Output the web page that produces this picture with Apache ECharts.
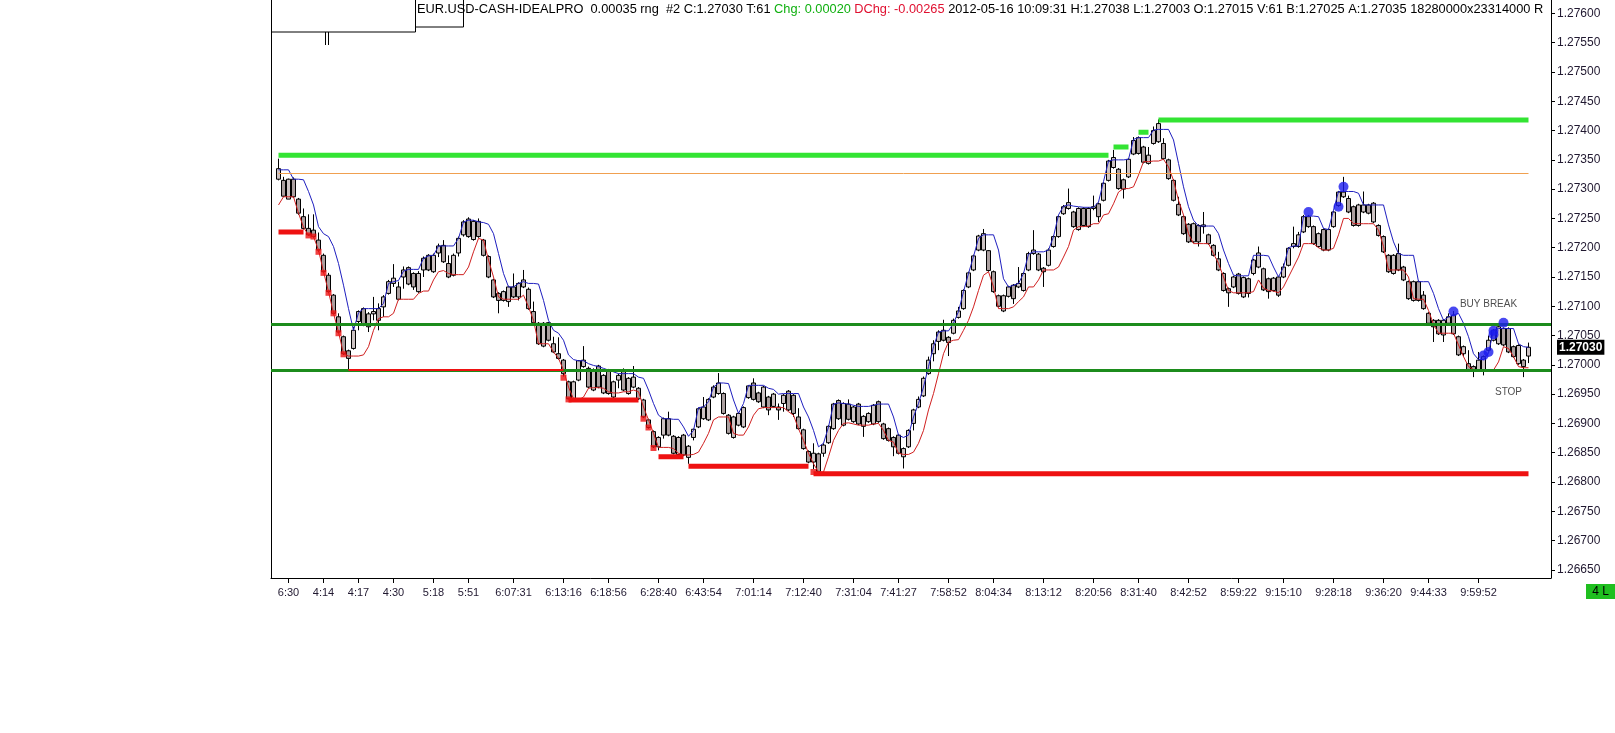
<!DOCTYPE html>
<html><head><meta charset="utf-8">
<script src="https://cdn.jsdelivr.net/npm/echarts@6/dist/echarts.min.js"></script>
<style>html,body{margin:0;padding:0;background:#fff}#c{width:1615px;height:733px}</style>
</head><body><div id="c"></div>
<script>
// ---- DATA ----
// candles: [open, close, low, high], one per bar
const candles = [
[1.27317,1.27335,1.27315,1.27352],[1.27315,1.27288,1.27287,1.27321],[1.27283,1.27317,1.27283,1.27318],[1.27317,1.27287,1.27285,1.27320],[1.27283,1.27259,1.27256,1.27285],
[1.27253,1.27233,1.27231,1.27267],[1.27233,1.27222,1.27220,1.27257],[1.27230,1.27219,1.27217,1.27257],[1.27213,1.27196,1.27193,1.27226],[1.27187,1.27159,1.27157,1.27190],
[1.27153,1.27125,1.27123,1.27157],[1.27119,1.27088,1.27086,1.27121],[1.27082,1.27056,1.27054,1.27088],[1.27048,1.27019,1.27017,1.27050],[1.27024,1.27011,1.26991,1.27026],
[1.27028,1.27059,1.27026,1.27065],[1.27074,1.27091,1.27059,1.27093],[1.27096,1.27068,1.27066,1.27098],[1.27065,1.27087,1.27056,1.27090],[1.27087,1.27091,1.27076,1.27116],
[1.27096,1.27076,1.27059,1.27105],[1.27099,1.27116,1.27082,1.27119],[1.27122,1.27142,1.27120,1.27145],[1.27139,1.27148,1.27133,1.27172],[1.27133,1.27112,1.27110,1.27142],
[1.27150,1.27162,1.27130,1.27168],[1.27166,1.27138,1.27136,1.27168],[1.27156,1.27133,1.27128,1.27158],[1.27125,1.27156,1.27123,1.27160],[1.27162,1.27182,1.27150,1.27185],
[1.27187,1.27162,1.27160,1.27189],[1.27159,1.27187,1.27157,1.27190],[1.27191,1.27203,1.27184,1.27207],[1.27204,1.27176,1.27174,1.27213],[1.27173,1.27150,1.27148,1.27187],
[1.27153,1.27187,1.27151,1.27190],[1.27191,1.27216,1.27185,1.27219],[1.27222,1.27244,1.27219,1.27247],[1.27249,1.27219,1.27217,1.27252],[1.27214,1.27245,1.27212,1.27247],
[1.27245,1.27219,1.27217,1.27250],[1.27213,1.27187,1.27185,1.27215],[1.27185,1.27150,1.27148,1.27187],[1.27145,1.27116,1.27114,1.27147],[1.27122,1.27110,1.27088,1.27124],
[1.27110,1.27125,1.27108,1.27127],[1.27108,1.27133,1.27099,1.27135],[1.27133,1.27116,1.27114,1.27156],[1.27116,1.27139,1.27110,1.27141],[1.27133,1.27145,1.27131,1.27162],
[1.27129,1.27096,1.27094,1.27132],[1.27091,1.27072,1.27070,1.27108],[1.27071,1.27036,1.27034,1.27073],[1.27032,1.27071,1.27030,1.27073],[1.27072,1.27042,1.27040,1.27073],
[1.27036,1.27022,1.27020,1.27048],[1.27019,1.27011,1.27009,1.27047],[1.27008,1.26985,1.26980,1.27010],[1.26971,1.26942,1.26941,1.26973],[1.26942,1.26971,1.26940,1.26973],
[1.26974,1.27007,1.26972,1.27008],[1.26997,1.27008,1.26995,1.27032],[1.26994,1.26962,1.26960,1.26997],[1.26957,1.26992,1.26955,1.26994],[1.26998,1.26962,1.26960,1.27000],
[1.26952,1.26982,1.26950,1.26984],[1.26991,1.26951,1.26949,1.26993],[1.26945,1.26971,1.26942,1.26973],[1.26974,1.26982,1.26960,1.26985],[1.26992,1.26957,1.26955,1.26994],
[1.26951,1.26977,1.26949,1.26979],[1.26962,1.26979,1.26960,1.26998],[1.26960,1.26942,1.26940,1.26962],[1.26940,1.26911,1.26909,1.26942],[1.26906,1.26893,1.26891,1.26908],
[1.26886,1.26860,1.26858,1.26888],[1.26860,1.26876,1.26854,1.26878],[1.26880,1.26908,1.26874,1.26910],[1.26908,1.26880,1.26878,1.26920],[1.26878,1.26849,1.26847,1.26880],
[1.26847,1.26876,1.26845,1.26878],[1.26880,1.26846,1.26844,1.26882],[1.26842,1.26861,1.26831,1.26863],[1.26876,1.26890,1.26871,1.26891],[1.26894,1.26925,1.26892,1.26927],
[1.26908,1.26928,1.26906,1.26945],[1.26906,1.26941,1.26904,1.26943],[1.26945,1.26962,1.26943,1.26965],[1.26951,1.26969,1.26949,1.26986],[1.26951,1.26917,1.26915,1.26953],
[1.26914,1.26883,1.26881,1.26916],[1.26876,1.26911,1.26874,1.26913],[1.26897,1.26917,1.26895,1.26919],[1.26894,1.26927,1.26892,1.26929],[1.26944,1.26964,1.26942,1.26965],
[1.26969,1.26941,1.26939,1.26977],[1.26952,1.26937,1.26935,1.26954],[1.26928,1.26962,1.26926,1.26964],[1.26945,1.26923,1.26914,1.26947],[1.26929,1.26950,1.26927,1.26952],
[1.26928,1.26923,1.26906,1.26934],[1.26934,1.26948,1.26920,1.26950],[1.26955,1.26923,1.26921,1.26957],[1.26948,1.26917,1.26911,1.26950],[1.26911,1.26891,1.26889,1.26926],
[1.26889,1.26857,1.26855,1.26891],[1.26852,1.26834,1.26832,1.26854],[1.26834,1.26849,1.26822,1.26866],[1.26848,1.26818,1.26813,1.26850],[1.26849,1.26863,1.26843,1.26866],
[1.26867,1.26895,1.26865,1.26897],[1.26891,1.26933,1.26889,1.26935],[1.26939,1.26908,1.26906,1.26941],[1.26897,1.26934,1.26895,1.26936],[1.26933,1.26907,1.26905,1.26941],
[1.26903,1.26928,1.26901,1.26930],[1.26933,1.26899,1.26897,1.26935],[1.26895,1.26912,1.26877,1.26914],[1.26903,1.26917,1.26901,1.26919],[1.26899,1.26931,1.26897,1.26933],
[1.26937,1.26903,1.26901,1.26939],[1.26899,1.26874,1.26872,1.26901],[1.26891,1.26871,1.26869,1.26893],[1.26876,1.26860,1.26844,1.26878],[1.26880,1.26849,1.26847,1.26882],
[1.26843,1.26857,1.26823,1.26859],[1.26860,1.26888,1.26858,1.26890],[1.26900,1.26923,1.26888,1.26925],[1.26928,1.26941,1.26926,1.26946],[1.26947,1.26977,1.26945,1.26980],
[1.26985,1.27008,1.26983,1.27014],[1.27019,1.27036,1.27006,1.27042],[1.27040,1.27056,1.27025,1.27059],[1.27059,1.27042,1.27040,1.27077],[1.27047,1.27038,1.27015,1.27049],
[1.27054,1.27076,1.27052,1.27079],[1.27081,1.27092,1.27079,1.27099],[1.27096,1.27127,1.27094,1.27129],[1.27133,1.27157,1.27131,1.27159],[1.27162,1.27186,1.27160,1.27188],
[1.27196,1.27220,1.27194,1.27222],[1.27196,1.27224,1.27194,1.27232],[1.27195,1.27161,1.27159,1.27196],[1.27159,1.27125,1.27123,1.27161],[1.27118,1.27100,1.27098,1.27120],
[1.27092,1.27118,1.27090,1.27120],[1.27117,1.27133,1.27115,1.27135],[1.27136,1.27113,1.27104,1.27138],[1.27133,1.27139,1.27131,1.27167],[1.27127,1.27156,1.27125,1.27158],
[1.27162,1.27190,1.27160,1.27193],[1.27190,1.27196,1.27188,1.27230],[1.27189,1.27162,1.27160,1.27191],[1.27165,1.27159,1.27133,1.27167],[1.27170,1.27196,1.27168,1.27199],
[1.27202,1.27219,1.27200,1.27221],[1.27219,1.27253,1.27217,1.27255],[1.27258,1.27270,1.27256,1.27273],[1.27267,1.27277,1.27265,1.27301],[1.27261,1.27236,1.27234,1.27263],
[1.27231,1.27267,1.27229,1.27269],[1.27267,1.27238,1.27236,1.27269],[1.27236,1.27267,1.27234,1.27269],[1.27267,1.27270,1.27264,1.27289],[1.27275,1.27253,1.27244,1.27277],
[1.27281,1.27310,1.27279,1.27312],[1.27315,1.27348,1.27313,1.27350],[1.27337,1.27354,1.27335,1.27367],[1.27334,1.27301,1.27299,1.27336],[1.27316,1.27300,1.27284,1.27318],
[1.27321,1.27351,1.27319,1.27353],[1.27360,1.27383,1.27358,1.27389],[1.27388,1.27361,1.27359,1.27390],[1.27372,1.27346,1.27344,1.27374],[1.27344,1.27358,1.27342,1.27372],
[1.27378,1.27400,1.27376,1.27407],[1.27381,1.27412,1.27379,1.27419],[1.27378,1.27352,1.27350,1.27387],[1.27350,1.27318,1.27316,1.27352],[1.27315,1.27281,1.27279,1.27317],
[1.27274,1.27256,1.27254,1.27287],[1.27253,1.27224,1.27222,1.27255],[1.27240,1.27210,1.27208,1.27242],[1.27210,1.27241,1.27208,1.27243],[1.27238,1.27210,1.27202,1.27240],
[1.27236,1.27239,1.27224,1.27261],[1.27222,1.27207,1.27205,1.27224],[1.27204,1.27187,1.27185,1.27206],[1.27181,1.27162,1.27160,1.27193],[1.27156,1.27127,1.27125,1.27158],
[1.27130,1.27123,1.27099,1.27132],[1.27133,1.27150,1.27131,1.27152],[1.27155,1.27122,1.27120,1.27157],[1.27116,1.27149,1.27114,1.27151],[1.27147,1.27122,1.27115,1.27149],
[1.27156,1.27179,1.27153,1.27181],[1.27167,1.27191,1.27165,1.27202],[1.27164,1.27128,1.27126,1.27166],[1.27147,1.27125,1.27113,1.27149],[1.27127,1.27148,1.27125,1.27150],
[1.27150,1.27119,1.27116,1.27152],[1.27150,1.27167,1.27148,1.27173],[1.27170,1.27199,1.27168,1.27201],[1.27202,1.27207,1.27199,1.27236],[1.27202,1.27222,1.27200,1.27227],
[1.27227,1.27253,1.27225,1.27256],[1.27253,1.27236,1.27234,1.27256],[1.27236,1.27207,1.27205,1.27238],[1.27202,1.27224,1.27200,1.27226],[1.27231,1.27196,1.27194,1.27233],
[1.27196,1.27231,1.27194,1.27233],[1.27236,1.27261,1.27234,1.27263],[1.27272,1.27295,1.27270,1.27297],[1.27287,1.27295,1.27285,1.27321],[1.27284,1.27261,1.27259,1.27289],
[1.27270,1.27238,1.27236,1.27272],[1.27238,1.27273,1.27236,1.27275],[1.27261,1.27273,1.27259,1.27296],[1.27273,1.27259,1.27257,1.27275],[1.27244,1.27276,1.27242,1.27278],
[1.27238,1.27221,1.27219,1.27240],[1.27219,1.27193,1.27191,1.27221],[1.27187,1.27159,1.27157,1.27189],[1.27156,1.27187,1.27154,1.27189],[1.27190,1.27162,1.27160,1.27207],
[1.27167,1.27145,1.27143,1.27169],[1.27142,1.27113,1.27111,1.27144],[1.27110,1.27142,1.27108,1.27144],[1.27142,1.27110,1.27108,1.27144],[1.27119,1.27096,1.27094,1.27126],
[1.27088,1.27071,1.27069,1.27090],[1.27076,1.27065,1.27039,1.27078],[1.27076,1.27053,1.27051,1.27078],[1.27051,1.27076,1.27039,1.27078],[1.27071,1.27082,1.27069,1.27088],
[1.27085,1.27053,1.27051,1.27092],[1.27048,1.27017,1.27015,1.27050],[1.27019,1.27031,1.27014,1.27033],[1.27002,1.26991,1.26989,1.27025],[1.26997,1.26990,1.26979,1.26999],
[1.26991,1.27008,1.26989,1.27022],[1.26991,1.27014,1.26982,1.27016],[1.27025,1.27042,1.27023,1.27050],[1.27042,1.27059,1.27040,1.27061],[1.27036,1.27065,1.27034,1.27070],
[1.27062,1.27034,1.27032,1.27064],[1.27062,1.27022,1.27020,1.27064],[1.27031,1.27014,1.27012,1.27033],[1.27002,1.27033,1.27000,1.27035],[1.27008,1.26997,1.26979,1.27010],
[1.27015,1.27030,1.27003,1.27038]
];
// upper (blue) and lower (red) channel lines, one value per bar
const upperLine = [
1.27333,1.27333,1.27333,1.27317,1.27317,1.27316,1.27296,1.27273,1.27236,1.27224,
1.27219,1.27202,1.27173,1.27136,1.27096,1.27059,1.27089,1.27096,1.27096,1.27096,
1.27096,1.27105,1.27139,1.27142,1.27144,1.27160,1.27163,1.27163,1.27163,1.27182,
1.27186,1.27187,1.27203,1.27203,1.27203,1.27203,1.27216,1.27244,1.27247,1.27247,
1.27244,1.27243,1.27240,1.27224,1.27190,1.27156,1.27133,1.27133,1.27139,1.27142,
1.27139,1.27139,1.27138,1.27110,1.27076,1.27059,1.27054,1.27042,1.27017,1.27009,
1.27007,1.27007,1.27002,1.26999,1.26997,1.26994,1.26991,1.26988,1.26985,1.26985,
1.26985,1.26985,1.26979,1.26977,1.26957,1.26934,1.26914,1.26908,1.26908,1.26907,
1.26907,1.26894,1.26878,1.26888,1.26927,1.26928,1.26937,1.26962,1.26969,1.26969,
1.26968,1.26940,1.26917,1.26934,1.26965,1.26965,1.26965,1.26965,1.26960,1.26958,
1.26950,1.26951,1.26951,1.26951,1.26951,1.26928,1.26911,1.26888,1.26860,1.26866,
1.26894,1.26933,1.26935,1.26934,1.26933,1.26931,1.26929,1.26929,1.26929,1.26931,
1.26933,1.26933,1.26933,1.26911,1.26880,1.26876,1.26880,1.26911,1.26934,1.26962,
1.26997,1.27031,1.27056,1.27058,1.27058,1.27071,1.27091,1.27125,1.27156,1.27185,
1.27216,1.27222,1.27222,1.27222,1.27196,1.27147,1.27133,1.27136,1.27139,1.27156,
1.27189,1.27193,1.27193,1.27193,1.27196,1.27219,1.27256,1.27271,1.27273,1.27271,
1.27270,1.27269,1.27269,1.27269,1.27278,1.27313,1.27348,1.27350,1.27350,1.27350,
1.27351,1.27385,1.27388,1.27388,1.27388,1.27401,1.27402,1.27402,1.27402,1.27384,
1.27344,1.27304,1.27270,1.27247,1.27237,1.27237,1.27237,1.27237,1.27224,1.27196,
1.27173,1.27153,1.27152,1.27152,1.27152,1.27187,1.27187,1.27187,1.27186,1.27167,
1.27150,1.27167,1.27200,1.27203,1.27203,1.27253,1.27254,1.27254,1.27253,1.27233,
1.27231,1.27264,1.27296,1.27296,1.27296,1.27296,1.27293,1.27273,1.27273,1.27273,
1.27273,1.27273,1.27239,1.27210,1.27190,1.27187,1.27187,1.27187,1.27142,1.27142,
1.27142,1.27122,1.27096,1.27076,1.27082,1.27085,1.27088,1.27071,1.27048,1.27019,
1.27009,1.27009,1.27020,1.27059,1.27062,1.27062,1.27062,1.27062,1.27036,1.27031,
1.27030
];
const lowerLine = [
1.27273,1.27287,1.27287,1.27287,1.27259,1.27235,1.27221,1.27219,1.27196,1.27159,
1.27125,1.27088,1.27056,1.27019,1.27015,1.27015,1.27015,1.27017,1.27031,1.27059,
1.27079,1.27082,1.27082,1.27088,1.27112,1.27112,1.27112,1.27112,1.27122,1.27126,
1.27126,1.27145,1.27159,1.27161,1.27156,1.27154,1.27154,1.27154,1.27167,1.27193,
1.27216,1.27213,1.27179,1.27150,1.27116,1.27112,1.27112,1.27112,1.27112,1.27119,
1.27099,1.27076,1.27036,1.27036,1.27036,1.27022,1.27011,1.26991,1.26962,1.26942,
1.26940,1.26945,1.26960,1.26961,1.26961,1.26960,1.26954,1.26952,1.26952,1.26954,
1.26954,1.26957,1.26954,1.26928,1.26906,1.26883,1.26859,1.26859,1.26859,1.26857,
1.26849,1.26846,1.26846,1.26847,1.26851,1.26866,1.26883,1.26906,1.26911,1.26911,
1.26911,1.26883,1.26880,1.26880,1.26894,1.26914,1.26925,1.26927,1.26927,1.26927,
1.26927,1.26927,1.26920,1.26914,1.26891,1.26871,1.26849,1.26831,1.26817,1.26817,
1.26843,1.26871,1.26888,1.26900,1.26901,1.26899,1.26897,1.26897,1.26897,1.26899,
1.26900,1.26888,1.26871,1.26868,1.26849,1.26847,1.26847,1.26851,1.26866,1.26888,
1.26923,1.26951,1.26985,1.27019,1.27039,1.27042,1.27043,1.27059,1.27076,1.27099,
1.27127,1.27153,1.27159,1.27133,1.27096,1.27096,1.27096,1.27099,1.27108,1.27116,
1.27133,1.27133,1.27145,1.27162,1.27162,1.27162,1.27167,1.27184,1.27202,1.27230,
1.27236,1.27236,1.27237,1.27241,1.27241,1.27256,1.27258,1.27275,1.27295,1.27301,
1.27301,1.27304,1.27324,1.27347,1.27347,1.27348,1.27348,1.27351,1.27338,1.27315,
1.27281,1.27256,1.27224,1.27207,1.27207,1.27207,1.27207,1.27190,1.27173,1.27150,
1.27127,1.27123,1.27123,1.27123,1.27123,1.27125,1.27145,1.27131,1.27127,1.27126,
1.27123,1.27133,1.27150,1.27167,1.27184,1.27207,1.27207,1.27207,1.27200,1.27196,
1.27196,1.27199,1.27222,1.27250,1.27250,1.27241,1.27241,1.27241,1.27241,1.27241,
1.27230,1.27202,1.27162,1.27162,1.27162,1.27162,1.27150,1.27113,1.27112,1.27112,
1.27093,1.27069,1.27054,1.27054,1.27054,1.27054,1.27034,1.27014,1.26997,1.26992,
1.26991,1.26991,1.26991,1.26991,1.27005,1.27031,1.27028,1.27014,1.26997,1.26995,
1.26995
];
// resistance steps (bright green): [fromBar, toBar, price]
const highSteps = [[0,166,1.27358],[167,170,1.27372],[171,171,1.27388],[172,174,1.27397],[175,175,1.27404],[176,250,1.27418]];
// support steps (red): [fromBar, toBar, price, thick]
const lowSteps = [[0,5,1.27227,1],[14,57,1.26991,0],[58,72,1.26940,1],[76,81,1.26843,1],[82,106,1.26827,1],[107,250,1.26814,1]];
// new-low markers (red squares): [bar, price]
const lowMarks = [[6,1.27221],[7,1.27219],[8,1.27193],[9,1.27157],[10,1.27123],[11,1.27088],[12,1.27054],[13,1.27018],[57,1.26978],[58,1.26941],[73,1.26908],[74,1.26893],[75,1.26858],[107,1.26817]];
// signal dots (blue): [bar, price]
const signalDots = [[206,1.27261],[212,1.27270],[213,1.27304],[235,1.27091],[241,1.27016],[242,1.27022],[243,1.27052],[243,1.27058],[245,1.27072]];
// horizontal levels
const orangeLevel = 1.27327;
const greenLevels = [1.2707, 1.2699];
const lastPrice = 1.27030;
// notes: [bar, price, text]
const notes = [[242,1.27104,'BUY BREAK'],[246,1.26954,'STOP']];
// axis ticks
const xTickBars = [2,9,16,23,31,38,47,57,66,76,85,95,105,115,124,134,143,153,163,172,182,192,201,211,221,230,240];
const xTickText = ['6:30','4:14','4:17','4:30','5:18','5:51','6:07:31','6:13:16','6:18:56','6:28:40','6:43:54','7:01:14','7:12:40','7:31:04','7:41:27','7:58:52','8:04:34','8:13:12','8:20:56','8:31:40','8:42:52','8:59:22','9:15:10','9:28:18','9:36:20','9:44:33','9:59:52'];
const yTicks = [1.2665,1.2670,1.2675,1.2680,1.2685,1.2690,1.2695,1.2700,1.2705,1.2710,1.2715,1.2720,1.2725,1.2730,1.2735,1.2740,1.2745,1.2750,1.2755,1.2760];
const headerA = 'EUR.USD-CASH-IDEALPRO  0.00035 rng  #2 C:1.27030 T:61 ';
const headerG = 'Chg: 0.00020';
const headerR = 'DChg: -0.00265';
const headerB = ' 2012-05-16 10:09:31 H:1.27038 L:1.27003 O:1.27015 V:61 B:1.27025 A:1.27035 18280000x23314000 R';
const statusText = '4 L';

// ---- LAYOUT HELPERS ----
const PAD = 1, TOTAL = 256;
const cats = Array.from({length: TOTAL}, (_, i) => String(i - PAD));
const nBars = candles.length;
function padArr(arr) { const out = new Array(TOTAL).fill(null); arr.forEach((v, i) => out[i + PAD] = v); return out; }
function stepArr(from, to, v) { const out = new Array(TOTAL).fill(null); for (let i = from; i <= to; i++) out[i + PAD] = v; return out; }
const tickMap = {}; xTickBars.forEach((b, i) => tickMap[b + PAD] = xTickText[i]);

const font = '"Liberation Sans", Arial, sans-serif';
const series = [];
series.push({
  type: 'candlestick', name: 'px', data: padArr(candles).map(v => v === null ? '-' : v),
  barWidth: 4, z: 3,
  itemStyle: { color: '#cdc3c3', color0: '#ab9f9f', borderColor: '#000', borderColor0: '#000', borderWidth: 1 }
});
// dark green levels (full grid width)
series.push({
  type: 'line', data: padArr(upperLine).map(() => null), symbol: 'none', z: 2,
  markLine: { silent: true, symbol: 'none', animation: false, precision: 5, data: greenLevels.map(v => ({ yAxis: v })),
    lineStyle: { color: '#1c8c1c', width: 3, type: 'solid' }, label: { show: false } }
});
series.push({ type: 'line', data: padArr(upperLine), showSymbol: false, symbol: 'none', z: 4, lineStyle: { color: '#1f1fbf', width: 1 }, animation: false,
  markLine: { silent: true, symbol: 'none', animation: false, precision: 5,
    data: [[{ coord: ['0', orangeLevel] }, { coord: [String(nBars - 1), orangeLevel] }]],
    lineStyle: { color: '#f0a050', width: 1, type: 'solid' }, label: { show: false } } });
series.push({ type: 'line', data: padArr(lowerLine), showSymbol: false, symbol: 'none', z: 4, lineStyle: { color: '#d02020', width: 1 }, animation: false,
  markLine: { silent: true, symbol: 'none', animation: false, precision: 5, data: [{ yAxis: lastPrice }], lineStyle: { color: 'rgba(0,0,0,0)', width: 1 },
    label: { show: true, position: 'end', distance: 6, formatter: () => lastPrice.toFixed(5), backgroundColor: '#000', color: '#fff', fontWeight: 'bold', fontSize: 12, fontFamily: font, padding: [2, 2, 1, 2] } } });
highSteps.forEach(s => series.push({ type: 'line', data: stepArr(s[0], s[1], s[2]), symbol: 'none', z: 5, lineStyle: { color: '#33e433', width: 5, cap: 'butt' }, animation: false }));
lowSteps.forEach(s => series.push({ type: 'line', data: stepArr(s[0], s[1], s[2]), symbol: 'none', z: 5, lineStyle: { color: '#ee1111', width: s[3] ? 5 : 2, cap: 'butt' }, animation: false }));
series.push({ type: 'scatter', data: lowMarks.map(d => [String(d[0]), d[1]]), symbol: 'rect', symbolSize: 6, itemStyle: { color: '#ee1111' }, z: 6, animation: false });
series.push({ type: 'scatter', data: signalDots.map(d => [String(d[0]), d[1]]), symbol: 'circle', symbolSize: 10, itemStyle: { color: '#1a1aee' }, z: 6, animation: false });
series.push({ type: 'scatter', data: notes.map(d => [String(d[0]), d[1], d[2]]), symbolSize: 0, z: 7, animation: false,
  label: { show: true, position: 'inside', formatter: p => p.data[2], color: '#222', fontSize: 10, fontFamily: font } });

const chart = echarts.init(document.getElementById('c'), null, { renderer: 'canvas' });
chart.setOption({
  animation: false,
  backgroundColor: '#fff',
  grid: { left: 271, right: 64, top: 0, bottom: 155, containLabel: false },
  xAxis: {
    type: 'category', data: cats, boundaryGap: true,
    axisLine: { lineStyle: { color: '#000', width: 1 } },
    axisTick: { show: true, alignWithLabel: true, interval: i => tickMap[i] !== undefined, length: 5, lineStyle: { color: '#000' } },
    axisLabel: { interval: i => tickMap[i] !== undefined, formatter: (v, i) => tickMap[i] || '', color: '#201830', fontSize: 11, fontFamily: font, margin: 9 },
    splitLine: { show: false }
  },
  yAxis: [{
    type: 'value', position: 'right', min: 1.26636, max: 1.27623, scale: true,
    axisLine: { show: true, lineStyle: { color: '#000' } },
    axisTick: { show: true, length: 4, customValues: yTicks, lineStyle: { color: '#000' } },
    axisLabel: { customValues: yTicks, formatter: v => v.toFixed(5), color: '#201830', fontSize: 12, fontFamily: font, margin: 6 },
    splitLine: { show: false }
  }],
  graphic: [
    { type: 'line', shape: { x1: 271.5, y1: 0, x2: 271.5, y2: 578 }, style: { stroke: '#000', lineWidth: 1 } },
    { type: 'rect', shape: { x: 271.5, y: -1, width: 144, height: 33 }, style: { fill: '#fff', stroke: '#000', lineWidth: 1 }, z: 100 },
    { type: 'rect', shape: { x: 415.5, y: -1, width: 48, height: 28 }, style: { fill: '#fff', stroke: '#000', lineWidth: 1 }, z: 99 },
    { type: 'line', shape: { x1: 325.5, y1: 32, x2: 325.5, y2: 45 }, style: { stroke: '#000', lineWidth: 1 }, z: 100 },
    { type: 'line', shape: { x1: 328.5, y1: 32, x2: 328.5, y2: 45 }, style: { stroke: '#000', lineWidth: 1 }, z: 100 },
    { type: 'text', left: 417, top: 3, z: 101, style: {
      text: '{a|' + headerA + '}{g|' + headerG + '} {r|' + headerR + '}{a|' + headerB + '}',
      rich: { a: { fill: '#000', fontSize: 12.8, fontFamily: font }, g: { fill: '#10b010', fontSize: 12.8, fontFamily: font }, r: { fill: '#e01030', fontSize: 12.8, fontFamily: font } } } },
    { type: 'group', left: 1586, top: 584, children: [
      { type: 'rect', shape: { x: 0, y: 0, width: 29, height: 15 }, style: { fill: '#1fbf1f' } },
      { type: 'text', x: 14.5, y: 7.5, style: { text: statusText, fill: '#000', fontSize: 12, fontFamily: font, align: 'center', verticalAlign: 'middle' } }
    ] }
  ],
  series: series
});
</script></body></html>
